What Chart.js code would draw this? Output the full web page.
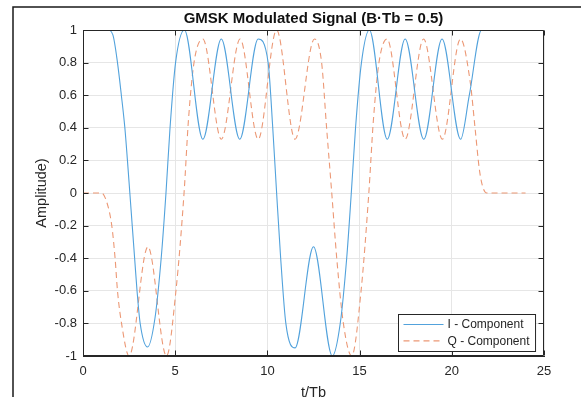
<!DOCTYPE html>
<html>
<head>
<meta charset="utf-8">
<title>GMSK Modulated Signal</title>
<script src="https://cdn.jsdelivr.net/npm/chart.js@4.4.1/dist/chart.umd.min.js"></script>
<style>
  html, body { margin: 0; padding: 0; background: #fff; }
  canvas { display: block; }
</style>
</head>
<body>
<canvas id="gmskChart" width="581" height="397"></canvas>
<script>
// values, time in units of Tb
const iTimes = [0, 1.35, 1.62, 1.87, 2.08, 2.27, 2.41, 2.54, 2.67, 2.8, 2.93, 3.1, 3.5, 3.9, 4.24, 4.5, 4.72, 5.02, 5.5,
    6.5, 7.5, 8.5, 9.5, 10.04, 10.29, 10.5, 10.72, 11.0, 11.5, 12.5, 13.52, 13.95, 14.3, 14.55, 14.78, 15.1, 15.53,
    16.5, 17.47, 18.48, 19.47, 20.48, 20.95, 21.62, 24];
const iValues = [1, 1, 0.97, 0.8, 0.6, 0.4, 0.2, 0, -0.2, -0.4, -0.6, -0.8, -0.945, -0.77, -0.4, 0, 0.4, 0.8, 1,
    0.33, 0.945, 0.33, 0.945, 0.8, 0.4, 0, -0.4, -0.8, -0.95, -0.33, -1, -0.8, -0.4, 0, 0.4, 0.8, 1,
    0.33, 0.945, 0.33, 0.945, 0.33, 0.6, 1, 1];

const qTimes = [0, 1.0, 1.3, 1.56, 1.74, 1.87, 2.09, 2.5, 3.52, 4.53, 5.04, 5.48, 5.72, 6.02, 6.5,
    7.5, 8.52, 9.5, 10.5, 11.5, 12.55, 12.94, 13.21, 13.49, 13.76, 14.12, 14.57, 15.08, 15.5, 15.75, 16.05, 16.49,
    17.47, 18.47, 19.49, 20.47, 21.0, 21.26, 21.5, 21.7, 21.9, 24];
const qValues = [0, 0, -0.06, -0.2, -0.4, -0.6, -0.8, -1, -0.33, -1, -0.6, 0, 0.45, 0.8, 0.945,
    0.33, 0.945, 0.33, 1, 0.33, 0.945, 0.8, 0.4, 0, -0.4, -0.8, -1, -0.6, 0, 0.45, 0.8, 0.945,
    0.33, 0.945, 0.33, 0.945, 0.68, 0.4, 0.14, 0.03, 0, 0];

const seriesLabels = ['I - Component', 'Q - Component'];
const xTicks = [0, 5, 10, 15, 20, 25];
const xTickLabels = ['0', '5', '10', '15', '20', '25'];
const yTicks = [-1, -0.8, -0.6, -0.4, -0.2, 0, 0.2, 0.4, 0.6, 0.8, 1];
const yTickLabels = ['-1', '-0.8', '-0.6', '-0.4', '-0.2', '0', '0.2', '0.4', '0.6', '0.8', '1'];

const font = "'Liberation Sans', Arial, Helvetica, sans-serif";
const axisColor = '#262626';
const gridColor = '#e6e6e6';

function toPoints(xs, ys) {
    return xs.map((x, i) => ({ x: x, y: ys[i] }));
}

// MATLAB style box: axis lines on all sides, ticks pointing inwards, legend in the corner
const boxPlugin = {
    id: 'boxPlugin',
    afterDatasetsDraw(chart) {
        const ctx = chart.ctx;
        const a = chart.chartArea;
        const xs = chart.scales.x;
        const ys = chart.scales.y;
        const L = Math.round(a.left) + 0.5, R = Math.round(a.right) - 0.5;
        const T = Math.round(a.top) + 0.5, B = Math.round(a.bottom) - 0.5;
        const tick = 5;

        ctx.save();
        ctx.strokeStyle = axisColor;
        ctx.lineWidth = 1;
        ctx.beginPath();
        ctx.moveTo(L, T); ctx.lineTo(R, T); ctx.lineTo(R, B); ctx.lineTo(L, B); ctx.closePath();
        xTicks.forEach(v => {
            const px = Math.round(xs.getPixelForValue(v)) + 0.5;
            ctx.moveTo(px, B); ctx.lineTo(px, B - tick);
            ctx.moveTo(px, T); ctx.lineTo(px, T + tick);
        });
        yTicks.forEach(v => {
            const py = Math.round(ys.getPixelForValue(v)) + 0.5;
            ctx.moveTo(L, py); ctx.lineTo(L + tick, py);
            ctx.moveTo(R, py); ctx.lineTo(R - tick, py);
        });
        ctx.stroke();

        // legend
        ctx.font = '12px ' + font;
        const textW = Math.max(...chart.data.datasets.map(d => ctx.measureText(d.label).width));
        const w = 5 + 40 + 4 + textW + 6;
        const h = 37;
        const lx = Math.round(a.right - 9 - w) + 0.5;
        const ly = Math.round(a.bottom - 5 - h) + 0.5;
        ctx.fillStyle = '#fff';
        ctx.fillRect(lx, ly, w, h);
        ctx.strokeStyle = axisColor;
        ctx.strokeRect(lx, ly, w, h);
        ctx.textBaseline = 'middle';
        ctx.textAlign = 'left';
        chart.data.datasets.forEach((d, i) => {
            const rowY = ly + 10 + i * 16.4;
            ctx.strokeStyle = d.borderColor;
            ctx.lineWidth = d.borderWidth;
            ctx.setLineDash(d.borderDash || []);
            ctx.beginPath();
            ctx.moveTo(lx + 5, rowY);
            ctx.lineTo(lx + 45, rowY);
            ctx.stroke();
            ctx.setLineDash([]);
            ctx.fillStyle = axisColor;
            ctx.fillText(d.label, lx + 49, rowY + 0.5);
        });
        ctx.restore();
    },
    afterDraw(chart) {
        // figure window edge seen in the screenshot
        const ctx = chart.ctx;
        ctx.save();
        ctx.strokeStyle = '#1a1a1a';
        ctx.lineWidth = 1.5;
        ctx.beginPath();
        ctx.moveTo(13, chart.height);
        ctx.lineTo(13, 7);
        ctx.lineTo(chart.width, 7);
        ctx.stroke();
        ctx.restore();
    }
};

const ctx = document.getElementById('gmskChart').getContext('2d');
new Chart(ctx, {
    type: 'line',
    data: {
        datasets: [{
            label: seriesLabels[0],
            data: toPoints(iTimes, iValues),
            borderColor: '#52a2dc',
            borderWidth: 1.1,
            pointRadius: 0,
            fill: false,
            cubicInterpolationMode: 'monotone'
        }, {
            label: seriesLabels[1],
            data: toPoints(qTimes, qValues),
            borderColor: '#ec9875',
            borderWidth: 1.1,
            borderDash: [6, 4],
            pointRadius: 0,
            fill: false,
            cubicInterpolationMode: 'monotone'
        }]
    },
    options: {
        responsive: false,
        animation: false,
        events: [],
        layout: { padding: { left: 0, right: 37, top: 0, bottom: 0 } },
        plugins: {
            legend: { display: false },
            tooltip: { enabled: false },
            title: {
                display: true,
                text: 'GMSK Modulated Signal (B\u00B7Tb = 0.5)',
                fullSize: false,
                color: '#111',
                font: { family: font, size: 15, weight: 'bold' },
                padding: { top: 10, bottom: 2 }
            }
        },
        scales: {
            x: {
                type: 'linear',
                min: 0,
                max: 25,
                afterBuildTicks: s => { s.ticks = xTicks.map(v => ({ value: v })); },
                afterFit: s => { s.height = 41; },
                grid: { color: gridColor, drawTicks: false },
                border: { color: axisColor },
                ticks: {
                    padding: 8,
                    color: axisColor,
                    font: { family: font, size: 13 },
                    maxRotation: 0,
                    callback: (v, i) => xTickLabels[i]
                },
                title: {
                    display: true,
                    text: 't/Tb',
                    color: axisColor,
                    font: { family: font, size: 14.5 },
                    padding: { top: 0, bottom: -5 }
                }
            },
            y: {
                min: -1,
                max: 1,
                afterBuildTicks: s => { s.ticks = yTicks.map(v => ({ value: v })); },
                afterFit: s => { s.width = 83; },
                grid: { color: gridColor, drawTicks: false },
                border: { color: axisColor },
                ticks: {
                    padding: 6,
                    color: axisColor,
                    font: { family: font, size: 13 },
                    callback: (v, i) => yTickLabels[i]
                },
                title: {
                    display: true,
                    text: 'Amplitude)',
                    color: axisColor,
                    font: { family: font, size: 14.5 },
                    padding: { top: 33, bottom: 0 }
                }
            }
        }
    },
    plugins: [boxPlugin]
});
</script>
</body>
</html>
